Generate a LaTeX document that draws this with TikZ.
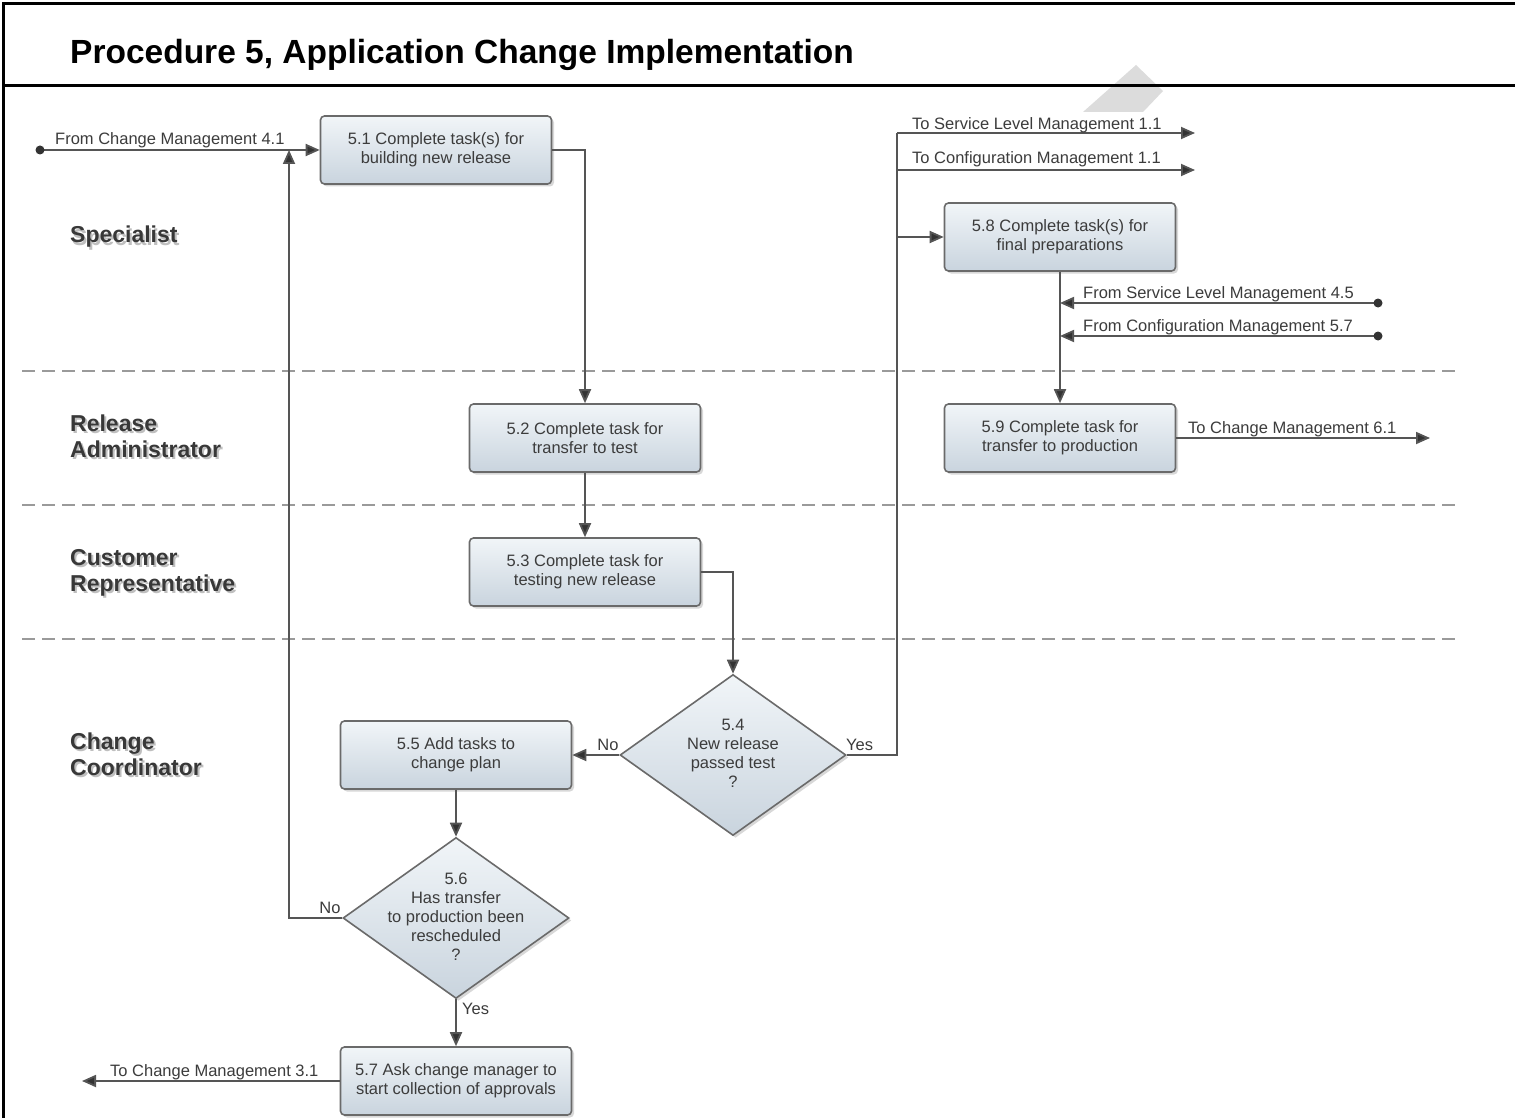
\documentclass[tikz,border=0pt]{standalone}
\usepackage{fontspec}
\setmainfont{Liberation Sans}
\usetikzlibrary{arrows.meta,shapes.geometric,shadows}
\definecolor{linec}{HTML}{555555}
\definecolor{tipc}{HTML}{333333}
\definecolor{txt}{HTML}{3C3C3C}
\definecolor{boxtop}{HTML}{F1F5F8}
\definecolor{boxbot}{HTML}{C9D4DE}
\definecolor{boxdraw}{HTML}{6A6A6A}
\definecolor{lanec}{HTML}{9A9A9A}
\definecolor{wmark}{HTML}{DCDCDC}
\tikzset{
  x=1pt, y=-1pt,
  task/.style={draw=boxdraw, line width=1.6pt, rounded corners=4pt,
    minimum width=231pt, minimum height=68pt, inner sep=0pt,
    top color=boxtop, bottom color=boxbot,
    drop shadow={shadow xshift=2.5pt, shadow yshift=-2.5pt, fill=black!30},
    align=center, text=txt, font=\fontsize{16.5}{19}\selectfont},
  decision/.style={diamond, draw=boxdraw, line width=1.6pt,
    minimum width=226pt, minimum height=161pt, inner sep=0pt,
    top color=boxtop, bottom color=boxbot,
    drop shadow={shadow xshift=2.5pt, shadow yshift=-2.5pt, fill=black!30}},
  dtext/.style={align=center, text=txt, inner sep=0pt,
    font=\fontsize{16.5}{19}\selectfont},
  conn/.style={draw=linec, line width=1.8pt},
  flow/.style={conn, -{Triangle[length=14pt, width=12pt, fill=tipc]}},
  lbl/.style={text=txt, font=\fontsize{16.5}{19}\selectfont, inner sep=0pt},
  lane/.style={draw=lanec, line width=2.5pt, dash pattern=on 13pt off 7pt},
  lanelbl/.style={anchor=base west, align=left, text=black!78, inner sep=0pt,
    font=\bfseries\fontsize{23}{26}\selectfont},
  laneshadow/.style={lanelbl, text=black!25},
  dotend/.style={circle, fill=tipc, inner sep=0pt, minimum size=9pt},
}
\begin{document}
\begin{tikzpicture}
\useasboundingbox (0,0) rectangle (1515,1118);
\fill[white] (0,0) rectangle (1515,1118);

% watermark fragment
\fill[wmark] (1083,112) -- (1136,65) -- (1163,91) -- (1143,112) -- cycle;

% frame and title
\draw[line width=3pt] (3,1118) -- (3,4) -- (1515,4);
\draw[line width=3pt] (3,86) -- (1515,86);
\node[anchor=base west, inner sep=0pt, font=\bfseries\fontsize{33.5}{40}\selectfont] (title) at (70,64) {Procedure 5, Application Change Implementation};

% lanes
\draw[lane] (22,371) -- (1455,371);
\draw[lane] (22,505) -- (1455,505);
\draw[lane] (22,639) -- (1455,639);

\node[laneshadow] at (72,245) {Specialist};
\node[lanelbl] (laneA) at (70,243) {Specialist};
\node[laneshadow] at (72,459) {Release\\Administrator};
\node[lanelbl] (laneB) at (70,457) {Release\\Administrator};
\node[laneshadow] at (72,593) {Customer\\Representative};
\node[lanelbl] (laneC) at (70,591) {Customer\\Representative};
\node[laneshadow] at (72,777) {Change\\Coordinator};
\node[lanelbl] (laneD) at (70,775) {Change\\Coordinator};

% tasks
\node[task] (t51) at (436,150) {5.1 Complete task(s) for\\building new release};
\node[task] (t52) at (585,438) {5.2 Complete task for\\transfer to test};
\node[task] (t53) at (585,572) {5.3 Complete task for\\testing new release};
\node[task] (t55) at (456,755) {5.5 Add tasks to\\change plan};
\node[task] (t57) at (456,1081) {5.7 Ask change manager to\\start collection of approvals};
\node[task] (t58) at (1060,237) {5.8 Complete task(s) for\\final preparations};
\node[task] (t59) at (1060,438) {5.9 Complete task for\\transfer to production};

% decisions
\node[decision] (d54) at (733,755) {};
\node[dtext] (d54t) at (733,753) {5.4\\New release\\passed test\\?};
\node[decision] (d56) at (456,918) {};
\node[dtext] (d56t) at (456,917) {5.6\\Has transfer\\to production been\\rescheduled\\?};

% free ends
\coordinate (src41) at (40,150);
\coordinate (m41) at (289,150);
\coordinate (jy) at (897,133);
\coordinate (jc) at (897,170);
\coordinate (j58) at (897,237);
\coordinate (outSLM) at (1195,133);
\coordinate (outCM) at (1195,170);
\coordinate (in45) at (1378,303);
\coordinate (in57) at (1378,336);
\coordinate (at45) at (1060,303);
\coordinate (at57) at (1060,336);
\coordinate (out61) at (1430,438);
\coordinate (out31) at (82,1081);

% connectors
\draw[flow] (src41) -- (t51.west);
\node[dotend] (dot41) at (src41) {};
\node[lbl, anchor=base west] (l41) at (55,145) {From Change Management 4.1};

\draw[flow] (t51.east) -| (t52.north);
\draw[flow] (t52.south) -- (t53.north);
\draw[flow] (t53.east) -| (d54.north);

\draw[flow] (d54.west) -- (t55.east);
\node[lbl, anchor=base] (lno54) at (608,750) {No};

\draw[conn] (d54.east) -| (jy);
\draw[flow] (jy) -- (outSLM);
\draw[flow] (jc) -- (outCM);
\draw[flow] (j58) -- (t58.west);
\node[lbl, anchor=base west] (lyes54) at (846,750) {Yes};
\node[lbl, anchor=base west] (lslm) at (912,130) {To Service Level Management 1.1};
\node[lbl, anchor=base west] (lcm) at (912,164) {To Configuration Management 1.1};

\draw[flow] (t55.south) -- (d56.north);
\draw[flow] (d56.west) -| (m41);
\node[lbl, anchor=base] (lno56) at (330,913) {No};
\draw[flow] (d56.south) -- (t57.north);
\node[lbl, anchor=base west] (lyes56) at (462,1014) {Yes};

\draw[flow] (t57.west) -- (out31);
\node[lbl, anchor=base west] (l31) at (110,1076) {To Change Management 3.1};

\draw[flow] (t58.south) -- (t59.north);
\draw[flow] (in45) -- (at45);
\node[dotend] (dot45) at (in45) {};
\node[lbl, anchor=base west] (l45) at (1083,298) {From Service Level Management 4.5};
\draw[flow] (in57) -- (at57);
\node[dotend] (dot57) at (in57) {};
\node[lbl, anchor=base west] (l57) at (1083,331) {From Configuration Management 5.7};

\draw[flow] (t59.east) -- (out61);
\node[lbl, anchor=base west] (l61) at (1188,433) {To Change Management 6.1};
\end{tikzpicture}
\end{document}
